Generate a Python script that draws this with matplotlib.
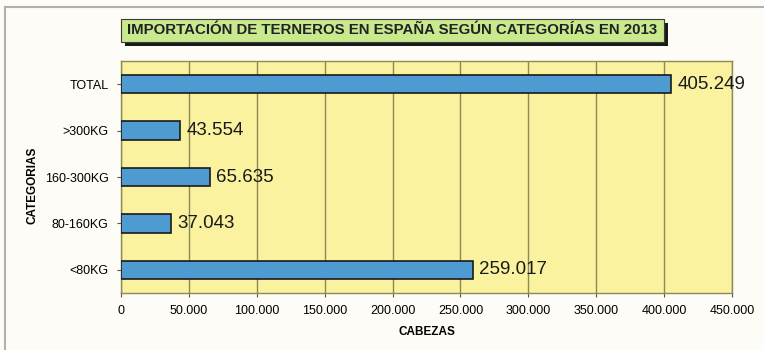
import matplotlib
matplotlib.use("Agg")
import matplotlib.pyplot as plt
from matplotlib.patches import Rectangle
from matplotlib.lines import Line2D

categories = ["<80KG", "80-160KG", "160-300KG", ">300KG", "TOTAL"]
heads = [259017, 37043, 65635, 43554, 405249]
value_labels = ["259.017", "37.043", "65.635", "43.554", "405.249"]
xticks = [0, 50000, 100000, 150000, 200000, 250000, 300000, 350000, 400000, 450000]
xtick_labels = ["0", "50.000", "100.000", "150.000", "200.000", "250.000",
                "300.000", "350.000", "400.000", "450.000"]

W, H = 764, 350
fig = plt.figure(figsize=(W / 100, H / 100), dpi=100)
fig.patch.set_facecolor("#fdfcf6")
plt.rcParams["font.family"] = ["Liberation Sans", "DejaVu Sans"]

# frame lines of the chart area
fig.add_artist(Line2D([5 / W, 5 / W], [0, 1 - 7 / H], transform=fig.transFigure,
                      color="#b0b0b0", lw=1.5))
fig.add_artist(Line2D([5 / W, 1], [1 - 7 / H, 1 - 7 / H], transform=fig.transFigure,
                      color="#b0b0b0", lw=1.5))

ax = fig.add_axes([121 / W, 1 - 293 / H, (732 - 121) / W, (293 - 61) / H])
ax.set_facecolor("#faf29e")
ypos = list(range(len(categories)))
ax.barh(ypos, heads, height=0.4, color="#4d9bd0", edgecolor="#1a1a1a", linewidth=1.2, zorder=3)
for y, v, lab in zip(ypos, heads, value_labels):
    ax.text(v + 4500, y, lab, va="center", ha="left", fontsize=13.5, color="#1a1a1a", zorder=4)

ax.set_xlim(0, 450000)
ax.set_ylim(-0.5, 4.5)
ax.set_xticks(xticks)
ax.set_xticklabels(xtick_labels, fontsize=9)
ax.set_yticks(ypos)
ax.set_yticklabels(categories, fontsize=9)
ax.tick_params(axis="both", length=3, color="#555555", pad=6)
ax.xaxis.grid(True, color="#8c8a55", lw=1.0, zorder=1)
for s in ax.spines.values():
    s.set_color("#8c8a55")
    s.set_linewidth(1.0)

ax.set_xlabel("CABEZAS", fontsize=8.5, fontweight="bold", labelpad=6)
fig.text(33 / W, 1 - 185 / H, "CATEGORIAS", rotation=90, fontsize=8.5, fontweight="bold",
         ha="center", va="center")

# title box with drop shadow
bx0, by0, bw, bh = 121, 19, 543, 23
fig.add_artist(Rectangle(((bx0 + 4) / W, 1 - (by0 + bh + 4) / H), bw / W, bh / H,
                         transform=fig.transFigure, facecolor="#1a1a1a", edgecolor="none"))
fig.add_artist(Rectangle((bx0 / W, 1 - (by0 + bh) / H), bw / W, bh / H,
                         transform=fig.transFigure, facecolor="#c9e98e",
                         edgecolor="#3a3a3a", lw=0.8))
fig.text((bx0 + bw / 2) / W, 1 - (by0 + bh / 2) / H,
         "IMPORTACIÓN DE TERNEROS EN ESPAÑA SEGÚN CATEGORÍAS EN 2013",
         ha="center", va="center", fontsize=10.8, fontweight="bold", color="#222222")

fig.savefig("out.png", dpi=100, facecolor=fig.get_facecolor())
